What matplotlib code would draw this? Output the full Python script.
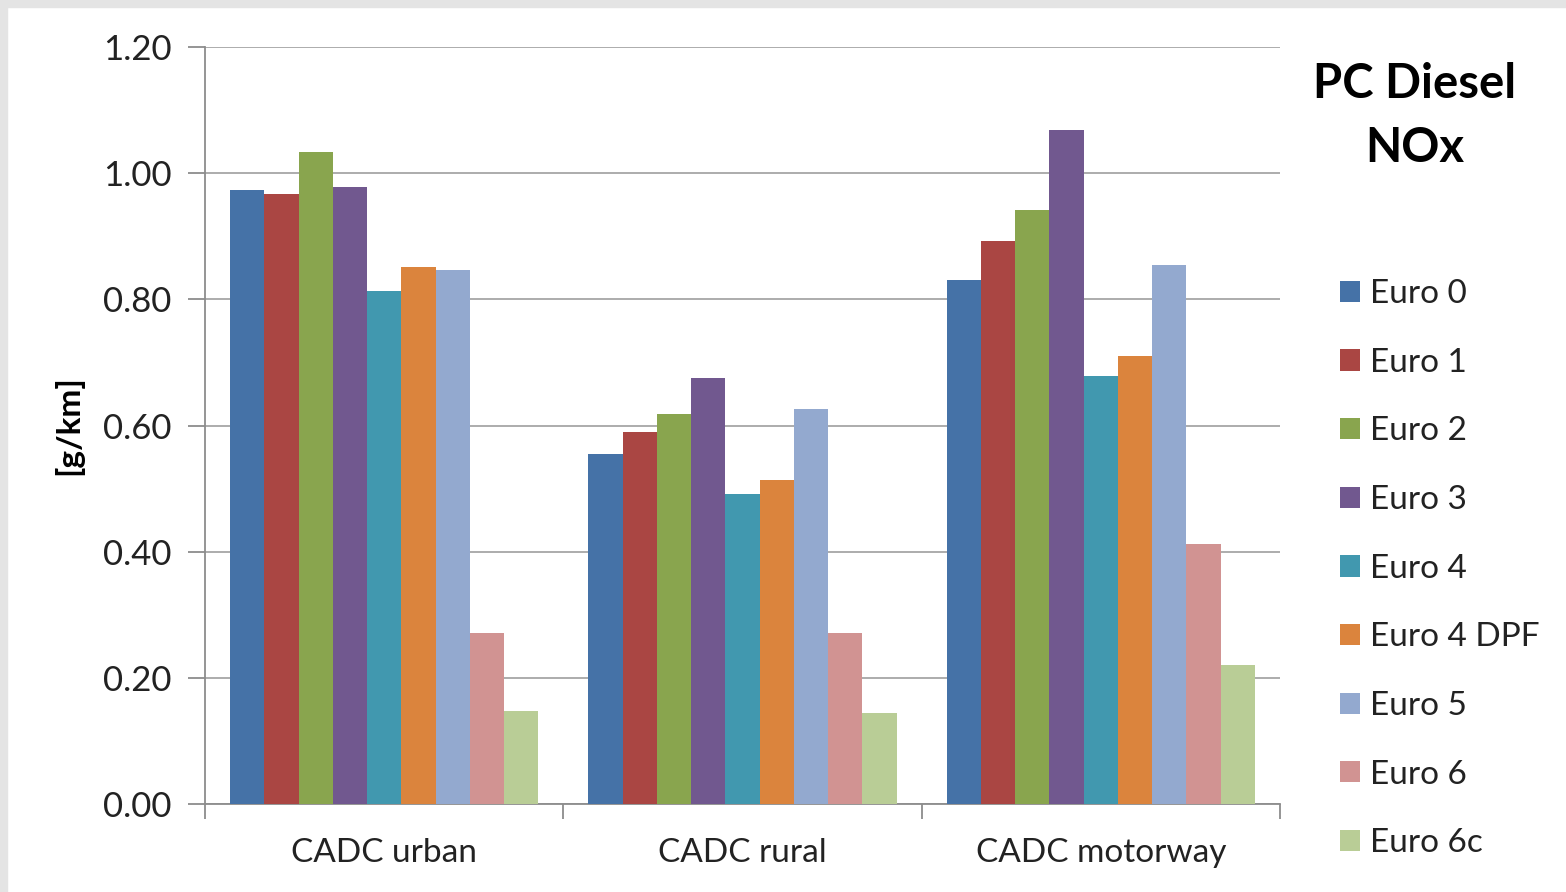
import numpy as np
import matplotlib.pyplot as plt
from matplotlib.patches import Rectangle

plt.rcParams['font.family'] = ['Lato', 'DejaVu Sans']

# donnees
categories = ['CADC urban', 'CADC rural', 'CADC motorway']
series = ['Euro 0', 'Euro 1', 'Euro 2', 'Euro 3', 'Euro 4',
          'Euro 4 DPF', 'Euro 5', 'Euro 6', 'Euro 6c']
urban = [0.973, 0.967, 1.034, 0.978, 0.813, 0.851, 0.847, 0.271, 0.147]
rural = [0.555, 0.590, 0.618, 0.675, 0.491, 0.514, 0.626, 0.271, 0.144]
motorway = [0.831, 0.893, 0.942, 1.068, 0.679, 0.710, 0.854, 0.412, 0.220]
colors = ['#4572A7', '#AA4643', '#89A54E', '#71588F', '#4198AF',
          '#DB843D', '#93A9CF', '#D19392', '#B9CD96']
yticks = [0.0, 0.2, 0.4, 0.6, 0.8, 1.0, 1.2]

values = np.array([urban, rural, motorway])

fig = plt.figure(figsize=(15.66, 8.92), dpi=100)
fig.patch.set_facecolor('white')
# bord gris en haut et a gauche
fig.patches.append(Rectangle((0, 0), 7/1566, 1, transform=fig.transFigure,
                             color='#e4e4e4', zorder=0))
fig.patches.append(Rectangle((0, 1 - 7/892), 1, 7/892, transform=fig.transFigure,
                             color='#e4e4e4', zorder=0))

ax = fig.add_axes([205/1566, 88/892, 1075/1566, 757/892])

x = np.arange(len(categories))
w = 0.86 / len(series)
for i, s in enumerate(series):
    ax.bar(x - 0.43 + w*(i + 0.5), values[:, i], width=w, color=colors[i],
           label=s, zorder=3)

ax.set_xlim(-0.5, 2.5)
ax.set_ylim(0, 1.2)
ax.set_yticks(yticks)
ax.set_yticklabels(['%.2f' % v for v in yticks], fontsize=25, color='#222222')
ax.yaxis.grid(True, color='#a6a6a6', linewidth=1.3, zorder=0)
ax.tick_params(axis='y', length=12, width=1.3, color='#8c8c8c', pad=12)

# ticks x aux limites des categories
ax.set_xticks([-0.5, 0.5, 1.5, 2.5])
ax.set_xticklabels([])
ax.tick_params(axis='x', length=11, width=1.3, color='#8c8c8c')
for xi, c in zip(x, categories):
    ax.text(xi, -0.078, c, ha='center', va='center', fontsize=24,
            color='#222222')

for sp in ['top', 'right']:
    ax.spines[sp].set_visible(False)
for sp in ['left', 'bottom']:
    ax.spines[sp].set_color('#8c8c8c')
    ax.spines[sp].set_linewidth(1.3)

ax.set_ylabel('[g/km]', fontsize=24, fontweight='bold', labelpad=14)

fig.text(1415/1566, 1 - 84/892, 'PC Diesel', ha='center', va='center',
         fontsize=34, fontweight='bold')
fig.text(1415/1566, 1 - 148/892, 'NOx', ha='center', va='center',
         fontsize=34, fontweight='bold')

leg = fig.legend(loc='upper left', bbox_to_anchor=(1340/1566, 1 - 279/892),
                 frameon=False, fontsize=24, handlelength=0.6,
                 handleheight=0.6, handletextpad=0.3, labelspacing=1.16,
                 borderpad=0, borderaxespad=0)
for t in leg.get_texts():
    t.set_color('#222222')

plt.savefig('out.png', dpi=100)
